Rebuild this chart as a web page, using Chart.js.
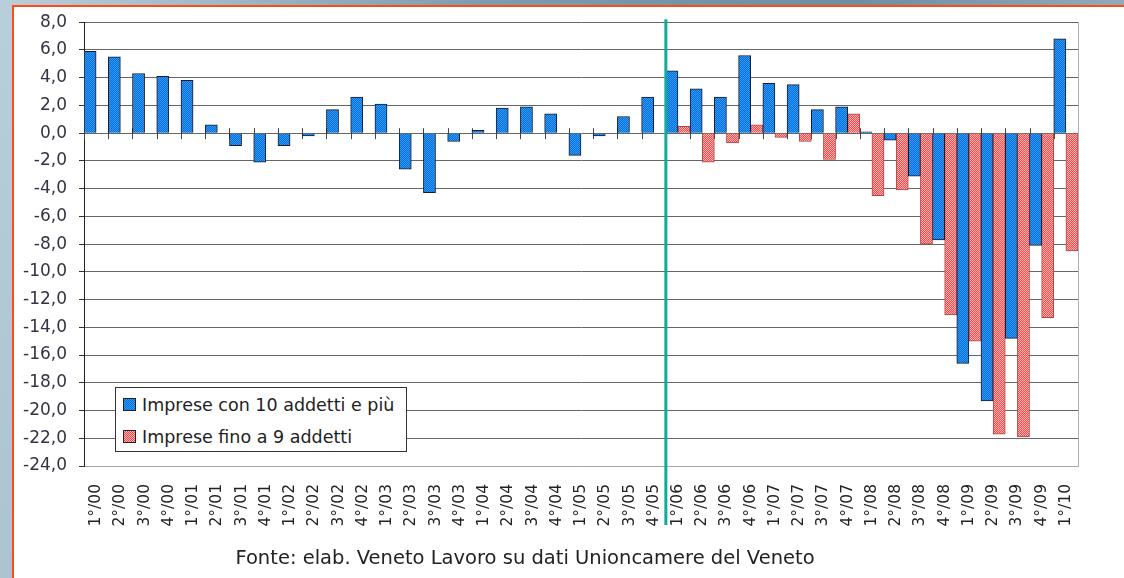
<!DOCTYPE html>
<html>
<head>
<meta charset="utf-8">
<script src="https://cdn.jsdelivr.net/npm/chart.js@4.4.1/dist/chart.umd.min.js"></script>
<style>
    html, body { margin: 0; padding: 0; }
    body {
        width: 1124px; height: 578px; overflow: hidden; position: relative;
        background: linear-gradient(100deg, #b9cfd9 0%, #7c9db0 40%, #6d8fa4 70%, #9db6c4 100%);
        font-family: "DejaVu Sans", Verdana, sans-serif;
    }
    #pannello {
        position: absolute; left: 12px; top: 5px; right: 0; bottom: 0;
        background: #fff;
        border-left: 2px solid #ff4a1c; border-top: 2px solid #ff4a1c;
    }
    #grafico { position: absolute; left: 0; top: 0; }
    #legenda {
        position: absolute; left: 115px; top: 387px; width: 292px; height: 65px;
        border: 1px solid #333; background: #fff; box-sizing: border-box;
        font-size: 17.5px; color: #222;
    }
    .voce { position: absolute; left: 7px; height: 22px; line-height: 22px; white-space: nowrap; }
    .quadrato {
        display: inline-block; width: 11px; height: 11px; border: 1px solid #222;
        vertical-align: 0px; margin-right: 6px;
    }
    #fonte {
        position: absolute; left: 0; width: 1050px; top: 546px; text-align: center;
        font-size: 19.5px; color: #222;
    }
</style>
</head>
<body>
<div id="pannello"></div>
<canvas id="grafico" width="1124" height="578"></canvas>
<div id="legenda">
    <div class="voce" style="top:6px"><span class="quadrato" style="background:repeating-conic-gradient(#0a6ccf 0 25%, #2f9dff 0 50%) 0 0/2px 2px"></span>Imprese con 10 addetti e più</div>
    <div class="voce" style="top:38px"><span class="quadrato" style="background:repeating-conic-gradient(#ff4848 0 25%, #ffb4b4 0 50%) 0 0/2px 2px"></span>Imprese fino a 9 addetti</div>
</div>
<div id="fonte">Fonte: elab. Veneto Lavoro su dati Unioncamere del Veneto</div>

<script>
let trimestri = [
    '1°/00', '2°/00', '3°/00', '4°/00', '1°/01', '2°/01', '3°/01', '4°/01',
    '1°/02', '2°/02', '3°/02', '4°/02', '1°/03', '2°/03', '3°/03', '4°/03',
    '1°/04', '2°/04', '3°/04', '4°/04', '1°/05', '2°/05', '3°/05', '4°/05',
    '1°/06', '2°/06', '3°/06', '4°/06', '1°/07', '2°/07', '3°/07', '4°/07',
    '1°/08', '2°/08', '3°/08', '4°/08', '1°/09', '2°/09', '3°/09', '4°/09',
    '1°/10'
];

let impreseGrandi = [
    5.9, 5.5, 4.3, 4.1, 3.8, 0.6, -0.9, -2.1,
    -0.9, -0.2, 1.7, 2.6, 2.1, -2.6, -4.3, -0.6,
    0.2, 1.8, 1.9, 1.4, -1.6, -0.2, 1.2, 2.6,
    4.5, 3.2, 2.6, 5.6, 3.6, 3.5, 1.7, 1.9,
    0.1, -0.5, -3.1, -7.7, -16.6, -19.3, -14.8, -8.1,
    6.8
];

let impresePiccole = [
    null, null, null, null, null, null, null, null,
    null, null, null, null, null, null, null, null,
    null, null, null, null, null, null, null, null,
    0.5, -2.1, -0.7, 0.6, -0.3, -0.6, -1.9, 1.4,
    -4.5, -4.1, -8.0, -13.1, -15.0, -21.7, -21.9, -13.3,
    -8.5
];

let nomiSerie = ['Imprese con 10 addetti e più', 'Imprese fino a 9 addetti'];
let indiceSeparatore = 24; // linea tra 4°/05 e 1°/06

// retino a scacchi come nel grafico originale
creaRetino = (c1, c2) => {
    let tela = document.createElement('canvas');
    tela.width = 2;
    tela.height = 2;
    let ctx = tela.getContext('2d');
    ctx.fillStyle = c1;
    ctx.fillRect(0, 0, 2, 2);
    ctx.fillStyle = c2;
    ctx.fillRect(0, 0, 1, 1);
    ctx.fillRect(1, 1, 1, 1);
    return ctx.createPattern(tela, 'repeat');
};

let context = document.querySelector('#grafico').getContext('2d');

let decorazioni = {
    id: 'decorazioni',
    beforeDatasetsDraw(chart) {
        let ctx = chart.ctx;
        let x = chart.scales.x;
        let y0 = chart.scales.y.getPixelForValue(0);
        let passo = x.getPixelForValue(1) - x.getPixelForValue(0);
        ctx.save();
        ctx.strokeStyle = '#444';
        ctx.lineWidth = 1;
        for (let i = 0; i <= trimestri.length; i++) {
            let px = Math.round(x.getPixelForValue(0) - passo / 2 + i * passo) + 0.5;
            ctx.beginPath();
            ctx.moveTo(px, y0 - 5);
            ctx.lineTo(px, y0 + 6);
            ctx.stroke();
        }
        // cornice a destra
        let area = chart.chartArea;
        ctx.strokeStyle = '#b0b0b0';
        ctx.beginPath();
        ctx.moveTo(Math.round(area.right) + 0.5, area.top);
        ctx.lineTo(Math.round(area.right) + 0.5, area.bottom);
        ctx.stroke();
        ctx.restore();
    },
    afterDatasetsDraw(chart) {
        let ctx = chart.ctx;
        let x = chart.scales.x;
        let px = (x.getPixelForValue(indiceSeparatore - 1) + x.getPixelForValue(indiceSeparatore)) / 2;
        ctx.save();
        ctx.strokeStyle = '#17a89b';
        ctx.lineWidth = 3;
        ctx.beginPath();
        ctx.moveTo(px, chart.chartArea.top - 3);
        ctx.lineTo(px, 525);
        ctx.stroke();
        ctx.restore();
    }
};

let config = {
    type: 'bar',
    data: {
        labels: trimestri,
        datasets: [{
            label: nomiSerie[0],
            data: impreseGrandi,
            backgroundColor: creaRetino('#0a6ccf', '#2f9dff'),
            borderColor: '#1a1a2a',
            borderWidth: 1,
            categoryPercentage: 1.0,
            barPercentage: 1.0
        }, {
            label: nomiSerie[1],
            data: impresePiccole,
            backgroundColor: creaRetino('#ff4848', '#ffb4b4'),
            borderColor: '#a04848',
            borderWidth: 1,
            categoryPercentage: 1.0,
            barPercentage: 1.0
        }]
    },
    options: {
        responsive: false,
        animation: false,
        layout: {
            padding: { left: 18, top: 22, right: 46, bottom: 52 }
        },
        plugins: {
            legend: { display: false },
            tooltip: { enabled: false }
        },
        scales: {
            x: {
                grid: { display: false },
                border: { display: true, color: '#a8a8a8' },
                ticks: {
                    minRotation: 90,
                    maxRotation: 90,
                    autoSkip: false,
                    padding: 10,
                    color: '#222',
                    font: { family: 'DejaVu Sans', size: 15.5 }
                },
                afterFit: (scale) => { scale.height = 60; }
            },
            y: {
                min: -24,
                max: 8,
                ticks: {
                    stepSize: 2,
                    padding: 12,
                    color: '#333344',
                    font: { family: 'DejaVu Sans', size: 17 },
                    callback: (v) => v.toFixed(1).replace('.', ',')
                },
                grid: {
                    color: '#666',
                    lineWidth: 1,
                    tickLength: 5,
                    tickColor: '#333'
                },
                border: { display: true, color: '#222' },
                afterFit: (scale) => { scale.width = 66; }
            }
        }
    },
    plugins: [decorazioni]
};

let grafico = new Chart(context, config);
</script>
</body>
</html>
